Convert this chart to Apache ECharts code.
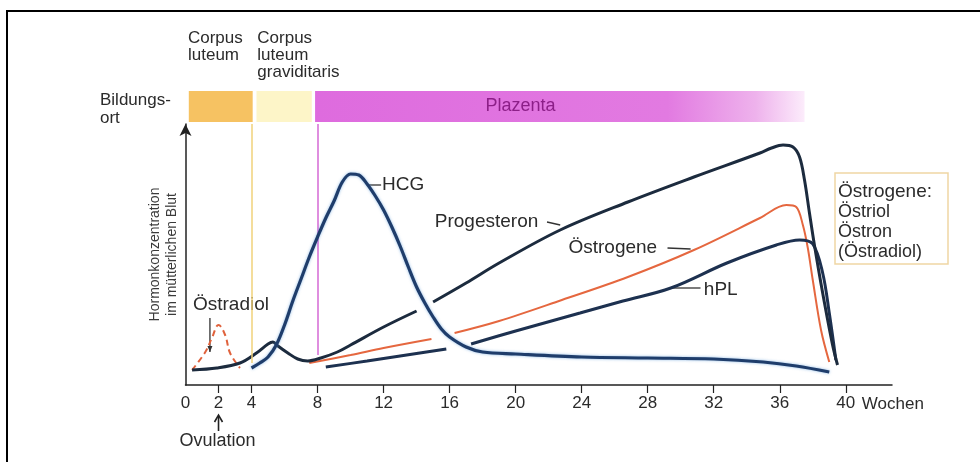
<!DOCTYPE html>
<html><head><meta charset="utf-8">
<script src="https://cdn.jsdelivr.net/npm/echarts@6/dist/echarts.min.js"></script>
<style>html,body{margin:0;padding:0;background:#fff}#c{width:980px;height:462px}</style>
</head><body><div id="c"></div>
<script>
// ---- axis ticks / labels (weeks) ----
const weekTicks = [2, 4, 8, 12, 16, 20, 24, 28, 32, 36, 40];
const weekLabels = [0, 2, 4, 8, 12, 16, 20, 24, 28, 32, 36, 40];

// ---- hormone curves (x = weeks, y = relative concentration) ----
const hcgWeeks  = [4, 4.5, 5, 5.5, 6, 6.5, 7, 7.5, 8, 8.5, 9, 9.5, 10, 10.5, 11, 11.5, 12, 12.5, 13, 13.5, 14, 14.5, 15, 15.5, 16, 17, 18, 20, 24, 28, 32, 35, 37, 39];
const hcgLevel  = [17, 22, 28, 40, 60, 84, 106, 128, 148, 167, 184, 203, 211, 210, 201, 189, 175, 158, 139, 118, 98, 82, 68, 56, 48, 38, 33, 31, 28, 27, 26, 23, 19, 13];

const progWeeks = [0.4, 1.9, 3.3, 4.3, 5.0, 5.3, 5.6, 6.2, 6.8, 7.4, 8.2, 9.2, 10, 12, 14, 14.5, 15, 17, 19, 22.7, 26.8, 30.8, 34.8, 35.5, 36.2, 36.8, 37.2, 37.5, 37.8, 38.1, 38.6, 39.2, 39.5];
const progLevel = [15, 17, 22, 32, 41, 43, 39, 32, 26, 24, 27, 33, 40, 58, 74, null, 83, 102, 122, 155, 183, 208, 232, 237, 240, 238, 228, 205, 172, 140, 92, 40, 20];

const estWeeks  = [7.5, 10, 12, 14.9, 15.6, 16.3, 19, 22.8, 26.8, 30.8, 34.8, 36.4, 37, 37.4, 37.7, 38, 38.5, 39];
const estLevel  = [22, 30, 37, 46, null, 52, 64, 85, 108, 135, 167, 180, 178, 160, 137, 105, 55, 23];

const hplWeeks  = [8.5, 11, 13, 15.8, 16.5, 17.3, 20, 23.9, 26.5, 29.4, 32.8, 35.8, 37.2, 38, 38.6, 39, 39.4];
const hplLevel  = [18, 24, 29, 36, null, 41, 54, 72, 84, 97, 122, 140, 145, 141, 112, 72, 25];

const e2Weeks   = [0.4, 1.2, 1.6, 2.0, 2.4, 2.7, 3.3];
const e2Level   = [15, 33, 47, 60, 50, 32, 17];

// ---- Bildungsort bands (weeks) ----
const bandNames = ['Corpus luteum', 'Corpus luteum graviditaris', 'Plazenta'];
const bandStart = [0.2, 4.3, 7.85];
const bandEnd   = [4.07, 7.65, 37.5];
const bandHeads = ['Corpus\nluteum', 'Corpus\nluteum\ngraviditaris', ''];

// ---- curve labels (anchor in weeks / level) ----
const curveLabels = ['HCG', 'Progesteron', 'Östrogene', 'hPL', 'Östradiol'];
const labelWeek   = [11.9, 15.1, 23.2, 31.4, 0.45];
const labelLevel  = [200, 163, 137, 95, 80];
const leaderFrom  = [[11.05, 200], [21.9, 163], [29.2, 137], [29.4, 97]];
const leaderTo    = [[11.85, 200], [22.7, 160], [30.6, 136], [31.2, 97]];

const legendLines = ['Östrogene:', 'Östriol', 'Östron', '(Östradiol)'];

const FONT = '"Liberation Sans", Arial, Helvetica, sans-serif';
const NARROW = '"Liberation Sans Narrow", "Liberation Sans", Arial, sans-serif';
const TXT = '#2b2b2b';

function pairs(xs, ys) { return xs.map((x, i) => [x, ys[i]]); }

const chart = echarts.init(document.getElementById('c'));

const plazentaGrad = new echarts.graphic.LinearGradient(0, 0, 1, 0, [
  {offset: 0, color: '#de6bde'}, {offset: 0.72, color: '#e27ae1'},
  {offset: 0.9, color: '#eeb2ec'}, {offset: 1, color: '#fcecfb'}]);
const bandColors = ['#f6c262', '#fdf5c8', plazentaGrad];

const option = {
  animation: false,
  backgroundColor: '#fff',
  grid: [
    {left: 185.5, right: 88, top: 124, bottom: 77},
    {left: 185.5, right: 88, top: 91, height: 31}
  ],
  xAxis: [
    {type: 'value', gridIndex: 0, min: 0, max: 42.8,
     axisLine: {lineStyle: {color: '#222', width: 1.5}},
     axisTick: {show: true, customValues: weekTicks, length: 8, lineStyle: {color: '#222', width: 1.2}},
     axisLabel: {customValues: weekLabels, margin: 10, fontSize: 17, color: TXT, fontFamily: NARROW},
     splitLine: {show: false}},
    {type: 'value', gridIndex: 1, min: 0, max: 42.8, show: false}
  ],
  yAxis: [
    {type: 'value', gridIndex: 0, min: 0, max: 261,
     axisLine: {show: true, symbol: ['none', 'arrow'], symbolSize: [9, 12], lineStyle: {color: '#222', width: 1.5}},
     axisTick: {show: false}, axisLabel: {show: false}, splitLine: {show: false},
     name: 'Hormonkonzentration\nim mütterlichen Blut', nameLocation: 'middle', nameRotate: 90, nameGap: 5,
     nameTextStyle: {fontSize: 14, lineHeight: 17, color: '#3a3a3a', fontFamily: FONT}},
    {type: 'value', gridIndex: 1, min: 0, max: 1, show: false}
  ],
  series: [
    {type: 'custom', xAxisIndex: 1, yAxisIndex: 1,
     data: bandNames.map((n, i) => [bandStart[i], bandEnd[i], i]),
     encode: {x: [0, 1]},
     renderItem: function (params, api) {
       const i = api.value(2);
       const s = api.coord([api.value(0), 1]);
       const e = api.coord([api.value(1), 0]);
       const children = [{type: 'rect', shape: {x: s[0], y: s[1], width: e[0] - s[0], height: e[1] - s[1]},
         style: {fill: bandColors[i]}}];
       if (i === 2) {
         const c = api.coord([20.3, 0.5]);
         children.push({type: 'text', style: {text: bandNames[2], x: c[0], y: c[1], align: 'center', verticalAlign: 'middle',
           font: '18px ' + FONT, fill: '#8c1f88'}});
       }
       return {type: 'group', children: children};
     }},
    {name: 'Östradiol', type: 'line', data: pairs(e2Weeks, e2Level), smooth: 0.4, symbol: 'none',
     lineStyle: {color: '#e0623c', width: 2, type: [6, 4]}, z: 3},
    {name: 'Östrogene', type: 'line', data: pairs(estWeeks, estLevel), smooth: 0.35, symbol: 'none',
     connectNulls: false, lineStyle: {color: '#e5673f', width: 2}, z: 3},
    {name: 'hPL', type: 'line', data: pairs(hplWeeks, hplLevel), smooth: 0.35, symbol: 'none',
     connectNulls: false, lineStyle: {color: '#1d3150', width: 3}, z: 4},
    {name: 'Progesteron', type: 'line', data: pairs(progWeeks, progLevel), smooth: 0.35, symbol: 'none',
     connectNulls: false, lineStyle: {color: '#1c2b3e', width: 3}, z: 4,
     markLine: {silent: true, symbol: 'none', label: {show: false},
       data: [
         [{coord: [4, 22], lineStyle: {color: '#f0d27a', width: 1.5, type: 'solid'}}, {coord: [4, 261]}],
         [{coord: [8, 30], lineStyle: {color: '#d468d4', width: 1.5, type: 'solid'}}, {coord: [8, 261]}]
       ]}},
    {name: 'HCG', type: 'line', data: pairs(hcgWeeks, hcgLevel), smooth: 0.35, symbol: 'none',
     lineStyle: {color: '#1f3d6b', width: 3.2, shadowColor: 'rgba(70,140,210,0.6)', shadowBlur: 3}, z: 5}
  ]
};
chart.setOption(option);

const px = (w, v) => chart.convertToPixel({gridIndex: 0}, [w, v]);
const g = [];
// frame lines
g.push({type: 'line', shape: {x1: 7, y1: 11, x2: 980, y2: 11}, style: {stroke: '#000', lineWidth: 2}});
g.push({type: 'line', shape: {x1: 7, y1: 10, x2: 7, y2: 462}, style: {stroke: '#000', lineWidth: 2}});
// Bildungsort
g.push({type: 'text', style: {text: 'Bildungs-\nort', x: 100, y: 91, font: '17px ' + FONT, lineHeight: 18, fill: TXT}});
// band headings
const h0 = px(0.15, 0), h1 = px(4.35, 0);
g.push({type: 'text', style: {text: bandHeads[0], x: h0[0], y: 30, font: '17px ' + FONT, lineHeight: 17, fill: TXT}});
g.push({type: 'text', style: {text: bandHeads[1], x: h1[0], y: 30, font: '17px ' + FONT, lineHeight: 17, fill: TXT}});
// curve labels
curveLabels.forEach((t, i) => {
  const p = px(labelWeek[i], labelLevel[i]);
  g.push({type: 'text', style: {text: t, x: p[0], y: p[1], verticalAlign: 'middle', font: '19px ' + FONT, fill: TXT}});
});
leaderFrom.forEach((f, i) => {
  const a = px(f[0], f[1]), b = px(leaderTo[i][0], leaderTo[i][1]);
  g.push({type: 'line', shape: {x1: a[0], y1: a[1], x2: b[0], y2: b[1]}, style: {stroke: '#333', lineWidth: 1.3}});
});
// Östradiol arrow
const ea = px(1.48, 67), eb = px(1.48, 33);
g.push({type: 'line', shape: {x1: ea[0], y1: ea[1], x2: eb[0], y2: eb[1]}, style: {stroke: '#333', lineWidth: 1.3}});
g.push({type: 'polygon', shape: {points: [[eb[0] - 2.5, eb[1] - 6], [eb[0] + 2.5, eb[1] - 6], [eb[0], eb[1]]]}, style: {fill: '#333'}});
// Ovulation arrow + text
const ov = px(2, 0);
g.push({type: 'line', shape: {x1: ov[0], y1: 431, x2: ov[0], y2: 416}, style: {stroke: '#222', lineWidth: 1.6}});
g.push({type: 'polyline', shape: {points: [[ov[0] - 4, 422], [ov[0], 415], [ov[0] + 4, 422]]}, style: {stroke: '#222', lineWidth: 1.6, fill: null}});
g.push({type: 'text', style: {text: 'Ovulation', x: ov[0] - 1, y: 441, align: 'center', verticalAlign: 'middle', font: '18px ' + NARROW, fill: TXT}});
// Wochen
const w40 = px(40, 0);
g.push({type: 'text', style: {text: 'Wochen', x: w40[0] + 16, y: ov[1] + 19, verticalAlign: 'middle', font: '17px ' + FONT, fill: TXT}});
// legend box
g.push({type: 'rect', shape: {x: 835, y: 173, width: 113, height: 91}, style: {fill: '#fff', stroke: '#efd6a4', lineWidth: 1.5}});
legendLines.forEach((t, i) => {
  g.push({type: 'text', style: {text: t, x: 838, y: 192 + i * 20, verticalAlign: 'middle', font: (i === 0 ? '19px ' : '18px ') + FONT, fill: TXT}});
});
chart.setOption({graphic: g});
</script>
</body></html>
